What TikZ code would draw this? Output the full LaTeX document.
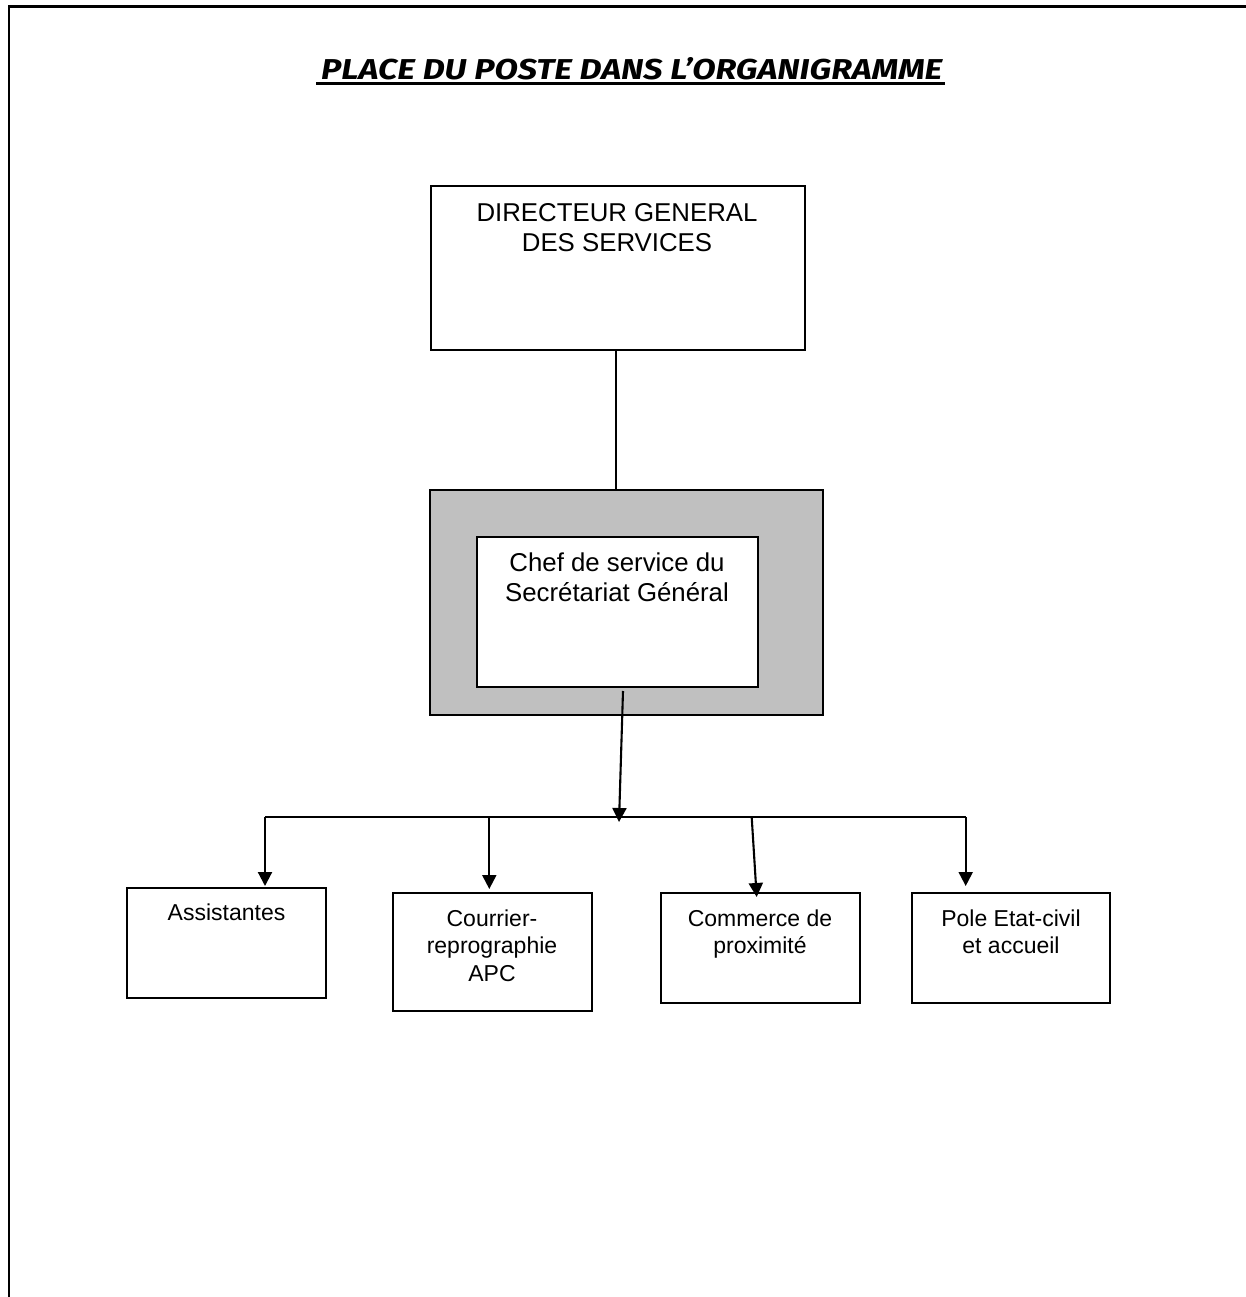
\documentclass[tikz,border=0pt]{standalone}
\usepackage{fontspec}
\setmainfont{Liberation Sans}
\newfontfamily\titlefont{Fira Sans}
\usetikzlibrary{arrows.meta}
\definecolor{boxgray}{HTML}{C0C0C0}
\begin{document}
\begin{tikzpicture}[x=1pt,y=-1pt,
  box/.style={draw=black,line width=2.2pt,fill=white,inner sep=0pt,outer sep=0pt,anchor=north west},
  lbl/.style={inner sep=0pt,anchor=north,align=center},
  bigtxt/.style={font=\fontsize{25.8}{30}\selectfont},
  smalltxt/.style={font=\fontsize{23}{27.5}\selectfont},
  conn/.style={line width=2.1pt},
  arr/.style={conn,-{Triangle[length=14pt,width=14pt]}}]
\useasboundingbox (0,0) rectangle (1246,1297);
% frame
\draw[line width=2.4pt] (9,1300) -- (9,6.7) -- (1250,6.7);
% title
\node[inner sep=0pt,anchor=base west] (title) at (321,79.3)
  {\resizebox{621pt}{22pt}{\titlefont\bfseries\itshape PLACE DU POSTE DANS L’ORGANIGRAMME}};
\draw[line width=2.6pt] ([xshift=-5pt,yshift=-4.2pt]title.base west) -- ([xshift=2pt,yshift=-4.2pt]title.base east);
% director
\node[box,minimum width=374pt,minimum height=164pt] (dg) at (431,186) {};
\node[lbl,bigtxt] (dgt) at (617,203) {DIRECTEUR GENERAL\\DES SERVICES};
% secretariat
\node[box,fill=boxgray,minimum width=393pt,minimum height=225pt] (sg) at (430,490) {};
\node[box,minimum width=281pt,minimum height=150pt] (chef) at (477,537) {};
\node[lbl,bigtxt] (cheft) at (617,552.5) {Chef de service du\\Secrétariat Général};
\draw[conn] ([xshift=-2pt]dg.south) -- ([xshift=-2pt]dg.south |- sg.north);
% bottom boxes
\node[box,minimum width=199pt,minimum height=110pt] (asst) at (127,888) {};
\node[lbl,smalltxt] (asstt) at (226.5,903.3) {Assistantes};
\node[box,minimum width=199pt,minimum height=118pt] (cour) at (393,893) {};
\node[lbl,smalltxt] (court) at (492,909.5) {Courrier-\\reprographie\\APC};
\node[box,minimum width=199pt,minimum height=110pt] (comm) at (661,893) {};
\node[lbl,smalltxt] (commt) at (760,909.5) {Commerce de\\proximité};
\node[box,minimum width=198pt,minimum height=110pt] (pole) at (912,893) {};
\node[lbl,smalltxt] (polet) at (1011,909.5) {Pole Etat-civil\\et accueil};
% bus
\coordinate (hub) at (619,822);
\coordinate (b1) at (265,817.3);
\coordinate (b2) at (489.3,817.3);
\coordinate (b3) at (751.7,817.3);
\coordinate (b4) at (965.7,817.3);
\draw[arr] ([xshift=5.5pt,yshift=-4pt]chef.south) -- (hub);
\draw[conn] (b1) -- (b4);
\draw[arr] (b1) -- ([yshift=2pt]b1 |- asst.north);
\draw[arr] (b2) -- ([yshift=4pt]b2 |- cour.north);
\draw[arr] (b3) -- ([xshift=5pt,yshift=-4pt]b3 |- comm.north);
\draw[arr] (b4) -- ([yshift=7pt]b4 |- pole.north);
\end{tikzpicture}
\end{document}
